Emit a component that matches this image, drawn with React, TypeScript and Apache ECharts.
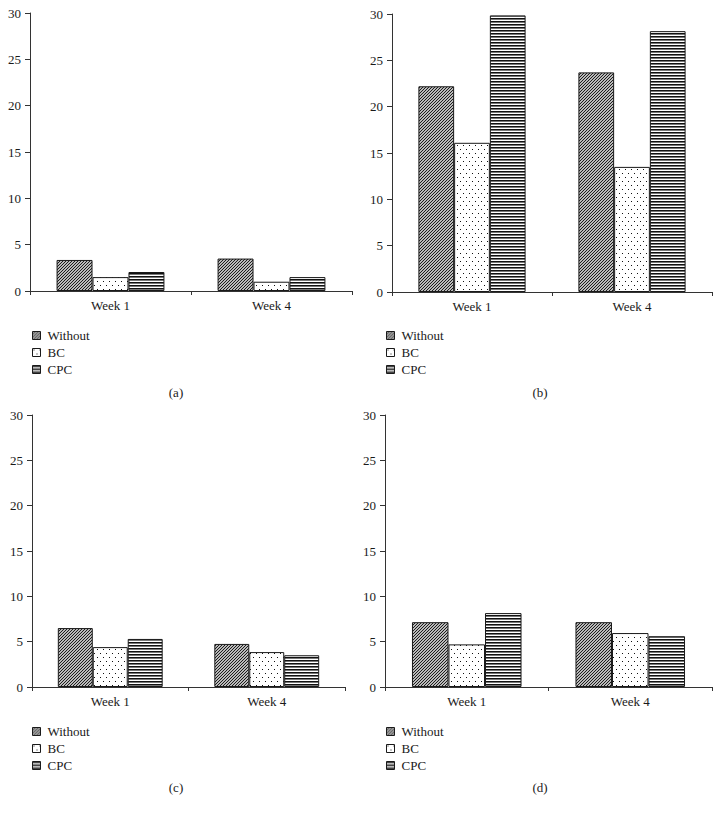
import React, { useEffect, useRef } from "react";
import * as echarts from "echarts";

const categories = ["Week 1", "Week 4"];
const seriesNames = ["Without", "BC", "CPC"];
const yTicks = [0, 5, 10, 15, 20, 25, 30];
const panelLabels = ["(a)", "(b)", "(c)", "(d)"];

const withoutA = [3.35, 3.5];
const bcA = [1.5, 1.0];
const cpcA = [2.05, 1.5];

const withoutB = [22.2, 23.7];
const bcB = [16.1, 13.5];
const cpcB = [29.85, 28.15];

const withoutC = [6.5, 4.75];
const bcC = [4.4, 3.85];
const cpcC = [5.3, 3.5];

const withoutD = [7.15, 7.15];
const bcD = [4.7, 5.95];
const cpcD = [8.15, 5.6];

const FONT = "'Liberation Serif', 'DejaVu Serif', serif";

function makeCanvas(w: number, h: number, draw: (ctx: CanvasRenderingContext2D) => void) {
  const c = document.createElement("canvas");
  c.width = w;
  c.height = h;
  const ctx = c.getContext("2d")!;
  ctx.fillStyle = "#ffffff";
  ctx.fillRect(0, 0, w, h);
  draw(ctx);
  return c;
}

export default function App() {
  const ref = useRef<HTMLDivElement>(null);

  useEffect(() => {
    document.body.style.margin = "0";
    if (!ref.current) return;
    const chart = echarts.init(ref.current, undefined, { renderer: "svg" });

    const hatch = makeCanvas(3, 3, (ctx) => {
      ctx.strokeStyle = "#111";
      ctx.lineWidth = 1.1;
      ctx.beginPath();
      ctx.moveTo(-1, 4);
      ctx.lineTo(4, -1);
      ctx.moveTo(-1, 1);
      ctx.lineTo(1, -1);
      ctx.moveTo(2, 4);
      ctx.lineTo(4, 2);
      ctx.stroke();
    });
    const dots = makeCanvas(6, 8, (ctx) => {
      ctx.fillStyle = "#111";
      ctx.fillRect(1, 1, 1, 1);
      ctx.fillRect(4, 5, 1, 1);
    });
    const lines = makeCanvas(4, 3, (ctx) => {
      ctx.fillStyle = "#111";
      ctx.fillRect(0, 0, 4, 1);
      ctx.fillStyle = "#777";
      ctx.fillRect(0, 1, 4, 1);
    });
    const patterns = [hatch, dots, lines].map((img) => ({ image: img, repeat: "repeat" }));

    const grids = [
      { left: 30, top: 13, width: 322, height: 278 },
      { left: 392, top: 14, width: 320, height: 278 },
      { left: 32, top: 415, width: 313, height: 272 },
      { left: 385, top: 415, width: 327, height: 272 },
    ];
    const panelData = [
      [withoutA, bcA, cpcA],
      [withoutB, bcB, cpcB],
      [withoutC, bcC, cpcC],
      [withoutD, bcD, cpcD],
    ];
    const legendPos = [
      { left: 32, top: 329 },
      { left: 386, top: 329 },
      { left: 32, top: 725 },
      { left: 386, top: 725 },
    ];
    const labelPos = [
      { x: 176, y: 392 },
      { x: 540, y: 392 },
      { x: 176, y: 787 },
      { x: 540, y: 787 },
    ];

    const axisColor = "#333";
    const textColor = "#1a1a1a";

    const series: any[] = [];
    panelData.forEach((pd, gi) => {
      pd.forEach((vals, si) => {
        series.push({
          type: "bar",
          name: seriesNames[si],
          xAxisIndex: gi,
          yAxisIndex: gi,
          data: vals,
          barGap: "0%",
          barCategoryGap: "33%",
          itemStyle: {
            color: patterns[si],
            borderColor: "#1a1a1a",
            borderWidth: 1,
          },
        });
      });
    });

    chart.setOption({
      animation: false,
      backgroundColor: "#ffffff",
      grid: grids.map((g) => ({ ...g, containLabel: false })),
      xAxis: grids.map((_, i) => ({
        type: "category",
        gridIndex: i,
        data: categories,
        axisLine: { show: true, lineStyle: { color: axisColor, width: 1 } },
        axisTick: { show: true, length: 4, lineStyle: { color: axisColor } },
        axisLabel: { color: textColor, fontFamily: FONT, fontSize: 13, margin: 8 },
      })),
      yAxis: grids.map((_, i) => ({
        type: "value",
        gridIndex: i,
        min: yTicks[0],
        max: yTicks[yTicks.length - 1],
        interval: 5,
        splitLine: { show: false },
        axisLine: { show: true, lineStyle: { color: axisColor, width: 1 } },
        axisTick: { show: true, length: 5, lineStyle: { color: axisColor } },
        axisLabel: { color: textColor, fontFamily: FONT, fontSize: 13, margin: 9 },
      })),
      legend: legendPos.map((p) => ({
        orient: "vertical",
        left: p.left,
        top: p.top,
        padding: 0,
        itemGap: 4,
        itemWidth: 8,
        itemHeight: 8,
        icon: "rect",
        selectedMode: false,
        data: seriesNames,
        itemStyle: { borderColor: "#1a1a1a", borderWidth: 1 },
        textStyle: { color: textColor, fontFamily: FONT, fontSize: 13, lineHeight: 13, padding: [0, 0, 0, 2] },
      })),
      graphic: panelLabels.map((t, i) => ({
        type: "text",
        x: labelPos[i].x,
        y: labelPos[i].y,
        style: {
          text: t,
          fill: textColor,
          font: `13px ${FONT}`,
          align: "center",
          verticalAlign: "middle",
        },
      })),
      series,
    });

    return () => chart.dispose();
  }, []);

  return <div ref={ref} style={{ width: 720, height: 815 }} />;
}
